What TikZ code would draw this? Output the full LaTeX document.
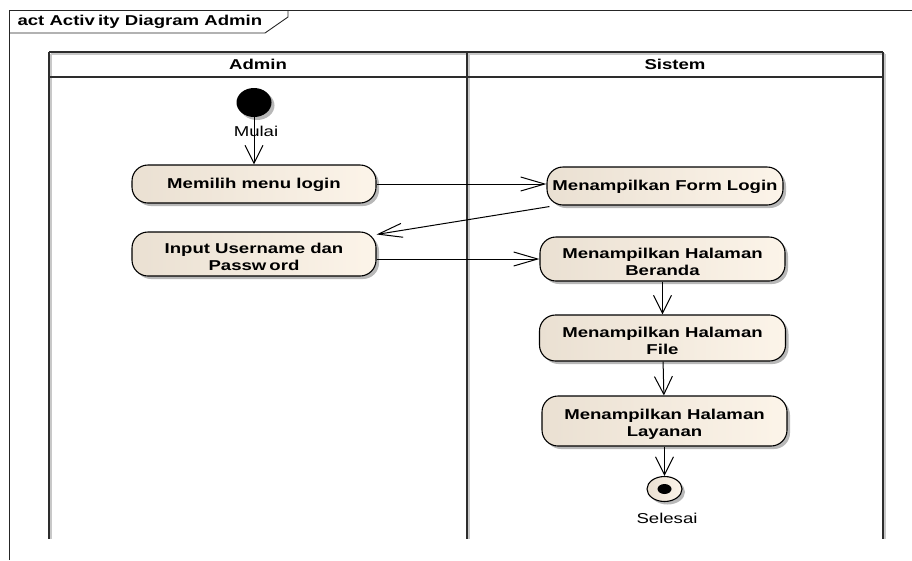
\documentclass[tikz,border=0pt]{standalone}
\usepackage{fontspec}
\setmainfont{Liberation Sans}[FakeStretch=1.3]
\usetikzlibrary{arrows.meta,shapes.geometric,shadows}

\definecolor{actL}{RGB}{234,224,210}
\definecolor{actR}{RGB}{252,244,233}
\definecolor{laneLine}{RGB}{45,45,45}
\definecolor{laneShade}{RGB}{200,200,200}

% activity caption, lowered a little inside its box (box size kept)
\newcommand\actcaption[2]{\raisebox{#1}[\height][\depth]{\begin{tabular}{@{}c@{}}#2\end{tabular}}}

\begin{document}
\begin{tikzpicture}[x=1pt,y=-1pt,
  txt/.style={font=\fontsize{14.3}{17}\selectfont},
  btxt/.style={font=\fontsize{14.3}{17}\selectfont\bfseries},
  shade/.style={drop shadow={shadow xshift=3pt,shadow yshift=-3pt,fill=black!28,opacity=1}},
  act/.style={draw=black, line width=1.1pt, rounded corners=16pt,
    left color=actL, right color=actR, btxt, align=center, inner sep=0pt, shade},
  flow/.style={draw=black, line width=1pt},
  vtip/.style={-{Straight Barb[length=18pt,width=18pt,line width=1pt]}},
  htip/.style={-{Straight Barb[length=24pt,width=14pt,line width=1pt]}},
  lane/.style={draw=laneLine, line width=2pt},
  laneshadow/.style={draw=laneShade, line width=2pt},
]
\useasboundingbox (0,0) rectangle (912,560);

% diagram frame with its name tab
\draw[line width=0.9pt, black!85] (9,560) -- (9,10) -- (912,10);
\draw[line width=0.9pt, black!85] (9,33) -- (265,33) -- (288,17) -- (288,10);
\node[btxt, anchor=west] (title) at (14,22) {act Activ\kern3pt ity Diagram Admin};

% swimlanes
\foreach \lx in {51,469,885} \draw[laneshadow] (\lx,54) -- (\lx,539);
\draw[laneshadow] (51,54) -- (885,54);
\draw[lane] (49,52) -- (883,52);
\draw[draw=laneLine, line width=1.5pt] (49,77) -- (883,77);
\foreach \lx in {49,467,883} \draw[lane] (\lx,52) -- (\lx,539);
\node[btxt] (laneA) at (258,64) {Admin};
\node[btxt] (laneS) at (675,64) {Sistem};

% start node
\node[ellipse, fill=black, minimum width=35pt, minimum height=29pt, inner sep=0pt, shade] (start) at (254,102.5) {};

% activities
\node[act, minimum width=244pt, minimum height=38pt] (b1) at (254,184) {\actcaption{-1.5pt}{Memilih menu login}};
\node[act, minimum width=244pt, minimum height=44pt] (b2) at (254,254) {\actcaption{-5pt}{Input Username dan\\Passw\kern3pt ord}};
\node[act, minimum width=236pt, minimum height=38pt] (b3) at (665,186) {\actcaption{-1.5pt}{Menampilkan Form Login}};
\node[act, minimum width=245pt, minimum height=44pt] (b4) at (662.5,259) {\actcaption{-5pt}{Menampilkan Halaman\\Beranda}};
\node[act, minimum width=246pt, minimum height=46pt] (b5) at (662.5,338) {\actcaption{-5pt}{Menampilkan Halaman\\File}};
\node[act, minimum width=245pt, minimum height=50pt] (b6) at (664.5,421) {\actcaption{-4pt}{Menampilkan Halaman\\Layanan}};

% final node
\node[ellipse, draw=black, line width=1.1pt, left color=actL, right color=actR,
  minimum width=35pt, minimum height=25pt, inner sep=0pt, shade] (stopnode) at (664.5,489) {};
\node[ellipse, fill=black, minimum width=14pt, minimum height=10pt, inner sep=0pt] (stopdot) at (stopnode.center) {};

% control flows
\draw[flow, vtip] (start) -- (b1);
\node[txt] (lstart) at (256,131) {Mulai};
\draw[flow, htip] (b1.east) -- (b1.east -| b3.west);
\draw[flow, htip] ([xshift=3pt,yshift=-1pt]b3.south west) -- ([yshift=-3pt]b2.north east);
\draw[flow, htip] (b2.east |- b4.west) -- (b4.west);
\draw[flow, vtip] (b4) -- (b5);
\draw[flow, vtip] (b5) -- (b6);
\draw[flow, vtip] (b6) -- (stopnode);
\node[txt] (lstop) at (667,518) {Selesai};
\end{tikzpicture}
\end{document}
